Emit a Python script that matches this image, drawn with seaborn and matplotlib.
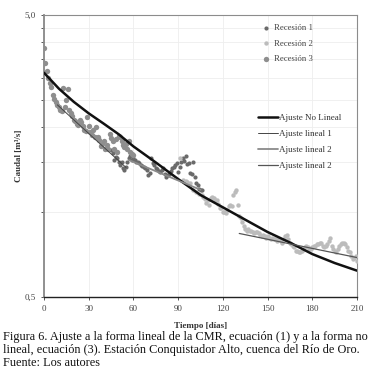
import numpy as np
import pandas as pd
import matplotlib
matplotlib.use("Agg")
import matplotlib.pyplot as plt
import seaborn as sns

# Recession data (day, discharge m3/s)
rec3_day = [0, 1, 2, 3, 4, 5, 6, 7, 8, 9, 10, 11, 12, 13, 14, 15, 16, 17, 18, 19,
            20, 21, 22, 23, 24, 25, 26, 27, 28, 29, 30, 31, 32, 33, 34, 35, 36, 37, 38, 39,
            40, 41, 42, 43, 44, 45, 46, 47, 48, 49, 50, 51, 52, 53, 54, 55, 56, 57, 58, 59, 60]
rec3_q = [3.82, 3.37, 3.17, 2.98, 2.88, 2.78, 2.60, 2.52, 2.45, 2.40, 2.35, 2.30, 2.28, 2.75, 2.36,
          2.50, 2.73, 2.30, 2.25, 2.20, 2.13, 2.10, 2.06, 2.03, 2.12, 2.08, 2.02, 1.96, 1.94, 2.18,
          2.02, 1.92, 1.88, 1.96, 1.84, 2.00, 1.85, 1.80, 1.71, 1.75, 1.78, 1.68, 1.73, 1.67, 1.89,
          1.83, 1.78, 1.68, 1.81, 1.64, 1.86, 1.84, 1.78, 1.73, 1.70, 1.75, 1.68, 1.78, 1.63, 1.61, 1.59]

rec1_day = [45, 46, 47, 48, 49, 50, 51, 52, 53, 54, 55, 56, 57, 58, 59, 60, 61, 62, 63, 64,
            65, 66, 67, 68, 69, 70, 71, 72, 73, 74, 75, 76, 77, 78, 79, 80, 81, 82, 83, 84,
            85, 86, 87, 88, 89, 90, 91, 92, 93, 94, 95, 96, 97, 98, 99, 100, 101, 102, 103, 104,
            105, 106]
rec1_q = [1.66, 1.62, 1.53, 1.57, 1.55, 1.50, 1.47, 1.51, 1.43, 1.41, 1.45, 1.50, 1.55, 1.58, 1.53,
          1.55, 1.53, 1.51, 1.51, 1.49, 1.47, 1.46, 1.45, 1.43, 1.41, 1.35, 1.38, 1.55, 1.49, 1.47,
          1.43, 1.42, 1.40, 1.39, 1.41, 1.43, 1.36, 1.33, 1.35, 1.37, 1.40, 1.43, 1.45, 1.47, 1.49,
          1.39, 1.45, 1.50, 1.55, 1.52, 1.58, 1.48, 1.49, 1.38, 1.37, 1.50, 1.33, 1.27, 1.25, 1.21,
          1.20, 1.20]

rec2_day = [91, 93, 95, 96, 98, 100, 102, 104, 106,
            107, 108, 109, 110, 111, 112, 113, 114, 115, 116, 117, 118, 119, 120, 121, 122, 123, 124,
            125, 126, 127, 128, 129, 130, 131, 132, 133, 134, 135, 136, 137, 138, 139, 140, 141, 142,
            143, 144, 145, 146, 147, 148, 149, 150, 151, 152, 153, 154, 155, 156, 157, 158, 159, 160,
            161, 162, 163, 164, 165, 166, 167, 168, 169, 170, 171, 172, 173, 174, 175, 176, 177, 178,
            179, 180, 181, 182, 183, 184, 185, 186, 187, 188, 189, 190, 191, 192, 193, 194, 195, 196,
            197, 198, 199, 200, 201, 202, 203, 204, 205, 206, 207, 208, 209, 210]
rec2_q = [1.55, 1.30, 1.29, 1.28, 1.27, 1.20, 1.18, 1.16, 1.15,
          1.13, 1.11, 1.08, 1.10, 1.06, 1.12, 1.13, 1.12, 1.10, 1.10, 1.07, 1.03, 1.03, 1.00, 1.00, 0.99, 1.02, 1.05,
          1.06, 1.05, 1.15, 1.18, 1.20, 1.06, 0.97, 0.95, 0.92, 0.89, 0.87, 0.86, 0.87, 0.86, 0.86, 0.85, 0.84, 0.85,
          0.85, 0.84, 0.83, 0.82, 0.83, 0.82, 0.81, 0.82, 0.81, 0.80, 0.81, 0.80, 0.80, 0.79, 0.80, 0.80, 0.79, 0.78,
          0.80, 0.82, 0.83, 0.80, 0.78, 0.77, 0.76, 0.75, 0.73, 0.73, 0.72, 0.72, 0.73, 0.74, 0.75, 0.76, 0.75, 0.74,
          0.74, 0.75, 0.76, 0.76, 0.77, 0.77, 0.78, 0.78, 0.76, 0.75, 0.76, 0.77, 0.79, 0.81, 0.76, 0.74, 0.73, 0.72,
          0.74, 0.76, 0.77, 0.78, 0.78, 0.77, 0.75, 0.73, 0.72, 0.70, 0.68, 0.69, 0.70, 0.67]

# fitted curves
nl_day = [0, 10, 20, 30, 40, 50, 60, 75, 90, 105, 120, 135, 150, 165, 180, 195, 210]
nl_q = [3.12, 2.74, 2.46, 2.24, 2.06, 1.89, 1.71, 1.50, 1.31, 1.15, 1.04, 0.94, 0.85, 0.78, 0.71, 0.66, 0.62]
lin1_day = [9, 55]
lin1_q = [2.40, 1.44]
lin2_day = [57, 105]
lin2_q = [1.53, 1.20]
lin3_day = [131, 210]
lin3_q = [0.84, 0.69]

assert len(rec1_day) == len(rec1_q)
assert len(rec2_day) == len(rec2_q)
assert len(rec3_day) == len(rec3_q)

sns.set_style("white")
plt.rcParams['font.family'] = ['Liberation Serif', 'DejaVu Serif']

fig = plt.figure(figsize=(3.83, 3.86), dpi=100)
ax = fig.add_axes([44/383, 1-297/386, (357-44)/383, (297-15)/386])

# scatter series
sns.scatterplot(x=rec1_day, y=rec1_q, ax=ax, color="#6a6a6a", s=9, linewidth=0, label="Recesión 1", zorder=3)
sns.scatterplot(x=rec2_day, y=rec2_q, ax=ax, color="#bcbcbc", s=10, linewidth=0, label="Recesión 2", zorder=3)
sns.scatterplot(x=rec3_day, y=rec3_q, ax=ax, color="#8e8e8e", s=15, linewidth=0, label="Recesión 3", zorder=3)

# fitted lines
sns.lineplot(x=nl_day, y=nl_q, ax=ax, color="#111111", lw=1.8, zorder=4)
sns.lineplot(x=lin1_day, y=lin1_q, ax=ax, color="#444444", lw=0.7, zorder=4)
sns.lineplot(x=lin2_day, y=lin2_q, ax=ax, color="#8a8a8a", lw=1.3, zorder=4)
sns.lineplot(x=lin3_day, y=lin3_q, ax=ax, color="#555555", lw=0.9, zorder=4)

ax.set_yscale("log")
ax.set_xlim(0, 210)
ax.set_ylim(0.5, 5.0)

yt = [0.5, 1.0, 1.5, 2.0, 2.5, 3.0, 3.5, 4.0, 4.5, 5.0]
ax.set_yticks(yt)
ax.set_yticklabels(["0,5"] + [""] * 8 + ["5,0"])
ax.minorticks_off()
ax.set_xticks([0, 30, 60, 90, 120, 150, 180, 210])
ax.tick_params(axis="both", labelsize=6.5, labelcolor="#444444", length=2.5, width=0.7,
               color="#555555", direction="out", left=True, bottom=True)
ax.grid(True, color="#eeeeee", lw=0.6)

for side in ["top", "right"]:
    ax.spines[side].set_color("#8c8c8c")
    ax.spines[side].set_linewidth(0.8)
ax.spines["left"].set_color("#888888")
ax.spines["left"].set_linewidth(1.3)
ax.spines["bottom"].set_color("#222222")
ax.spines["bottom"].set_linewidth(1.0)

ax.set_xlabel("Tiempo [días]", fontsize=6.5, fontweight="bold", color="#333333", labelpad=6)
ax.set_ylabel("Caudal [m³/s]", fontsize=6.5, fontweight="bold", color="#333333", labelpad=1)

# legends
h, lab = ax.get_legend_handles_labels()
leg1 = ax.legend(h[:3], ["Recesión 1", "Recesión 2", "Recesión 3"], loc="upper left",
                 bbox_to_anchor=((262-44)/313, (297-24)/282), frameon=False, fontsize=6.3,
                 handlelength=0.8, handletextpad=0.6, labelspacing=0.85, labelcolor="#444444",
                 borderaxespad=0, borderpad=0)
ax.add_artist(leg1)
lines = ax.get_lines()
ax.legend(lines[:4], ["Ajuste No Lineal", "Ajuste lineal 1", "Ajuste lineal 2", "Ajuste lineal 2"],
          loc="upper left", bbox_to_anchor=((258-44)/313, (297-114)/282), frameon=False, fontsize=6.5,
          handlelength=2.2, handletextpad=0.1, labelspacing=0.85, labelcolor="#333333",
          borderaxespad=0, borderpad=0)

caption = ("Figura 6. Ajuste a la forma lineal de la CMR, ecuación (1) y a la forma no\n"
           "lineal, ecuación (3). Estación Conquistador Alto, cuenca del Río de Oro.\n"
           "Fuente: Los autores")
fig.text(3/383, 1-331/386, caption, fontsize=8.8, va="top", ha="left", color="#111111", linespacing=1.1)

fig.savefig("out.png", dpi=100)
